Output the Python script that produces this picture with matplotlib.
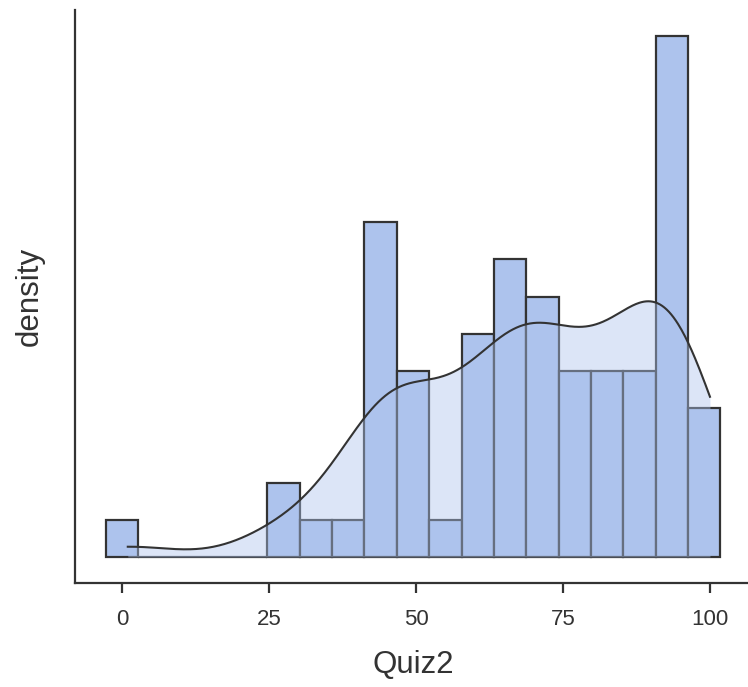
import numpy as np
import matplotlib
matplotlib.use("Agg")
import matplotlib.pyplot as plt

# quiz scores (one value per student)
scores = [1,
          26, 29,
          33,
          39,
          42, 43, 44, 44, 45, 45, 45, 46, 46,
          48, 49, 50, 51, 52,
          55,
          58, 59, 60, 61, 62, 63,
          64, 65, 65, 66, 67, 67, 68, 68,
          69, 70, 71, 72, 72, 73, 74,
          75, 76, 77, 78, 79,
          80, 81, 82, 83, 85,
          86, 87, 88, 89, 90,
          91, 91, 92, 92, 92, 93, 93, 93, 94, 94, 94, 95, 95, 95,
          97, 97, 98, 100]
bin_width = 5.5
first_center = 0.0
xticks = [0, 25, 50, 75, 100]
xlabel = "Quiz2"
ylabel = "density"

bar_col = "#adc3ed"
ink = "#333333"

plt.rcParams['font.family'] = ['Liberation Sans', 'DejaVu Sans']

x = np.array(scores, dtype=float)
n = len(x)
edges = np.arange(first_center - bin_width / 2, x.max() + bin_width, bin_width)

# bandwidth like R's bw.nrd0
q75, q25 = np.percentile(x, [75, 25])
bw = 0.9 * min(x.std(ddof=1), (q75 - q25) / 1.34) * n ** -0.2
grid = np.linspace(x.min(), x.max(), 512)
dens = np.exp(-0.5 * ((grid[:, None] - x[None, :]) / bw) ** 2).sum(axis=1)
dens = dens / (n * bw * np.sqrt(2 * np.pi))

fig = plt.figure(figsize=(7.48, 6.87), dpi=100)
ax = fig.add_axes([75/748, 104/687, 676/748, 573/687])

counts, _, _ = ax.hist(x, bins=edges, density=True, color=bar_col,
                       edgecolor=ink, linewidth=1.6, zorder=1)
ax.fill_between(grid, 0, dens, color=bar_col, alpha=0.42, linewidth=0, zorder=2)
ax.plot(grid, dens, color=ink, linewidth=1.5, zorder=3)

lo, hi = edges[0], edges[-1]
pad = (hi - lo) * 0.05
ax.set_xlim(lo - pad, hi + pad)
top = max(counts.max(), dens.max())
ax.set_ylim(-top * 0.05, top * 1.05)

ax.set_xticks(xticks)
ax.set_yticks([])
for s in ["top", "right"]:
    ax.spines[s].set_visible(False)
for s in ["left", "bottom"]:
    ax.spines[s].set_color(ink)
    ax.spines[s].set_linewidth(1.6)
ax.tick_params(axis="x", length=7, width=1.6, color=ink, labelcolor=ink,
               labelsize=16, pad=12)
ax.set_xlabel(xlabel, fontsize=22.5, color=ink, labelpad=14)
ax.set_ylabel(ylabel, fontsize=22.5, color=ink, labelpad=22)

fig.savefig("out.png", dpi=100)
